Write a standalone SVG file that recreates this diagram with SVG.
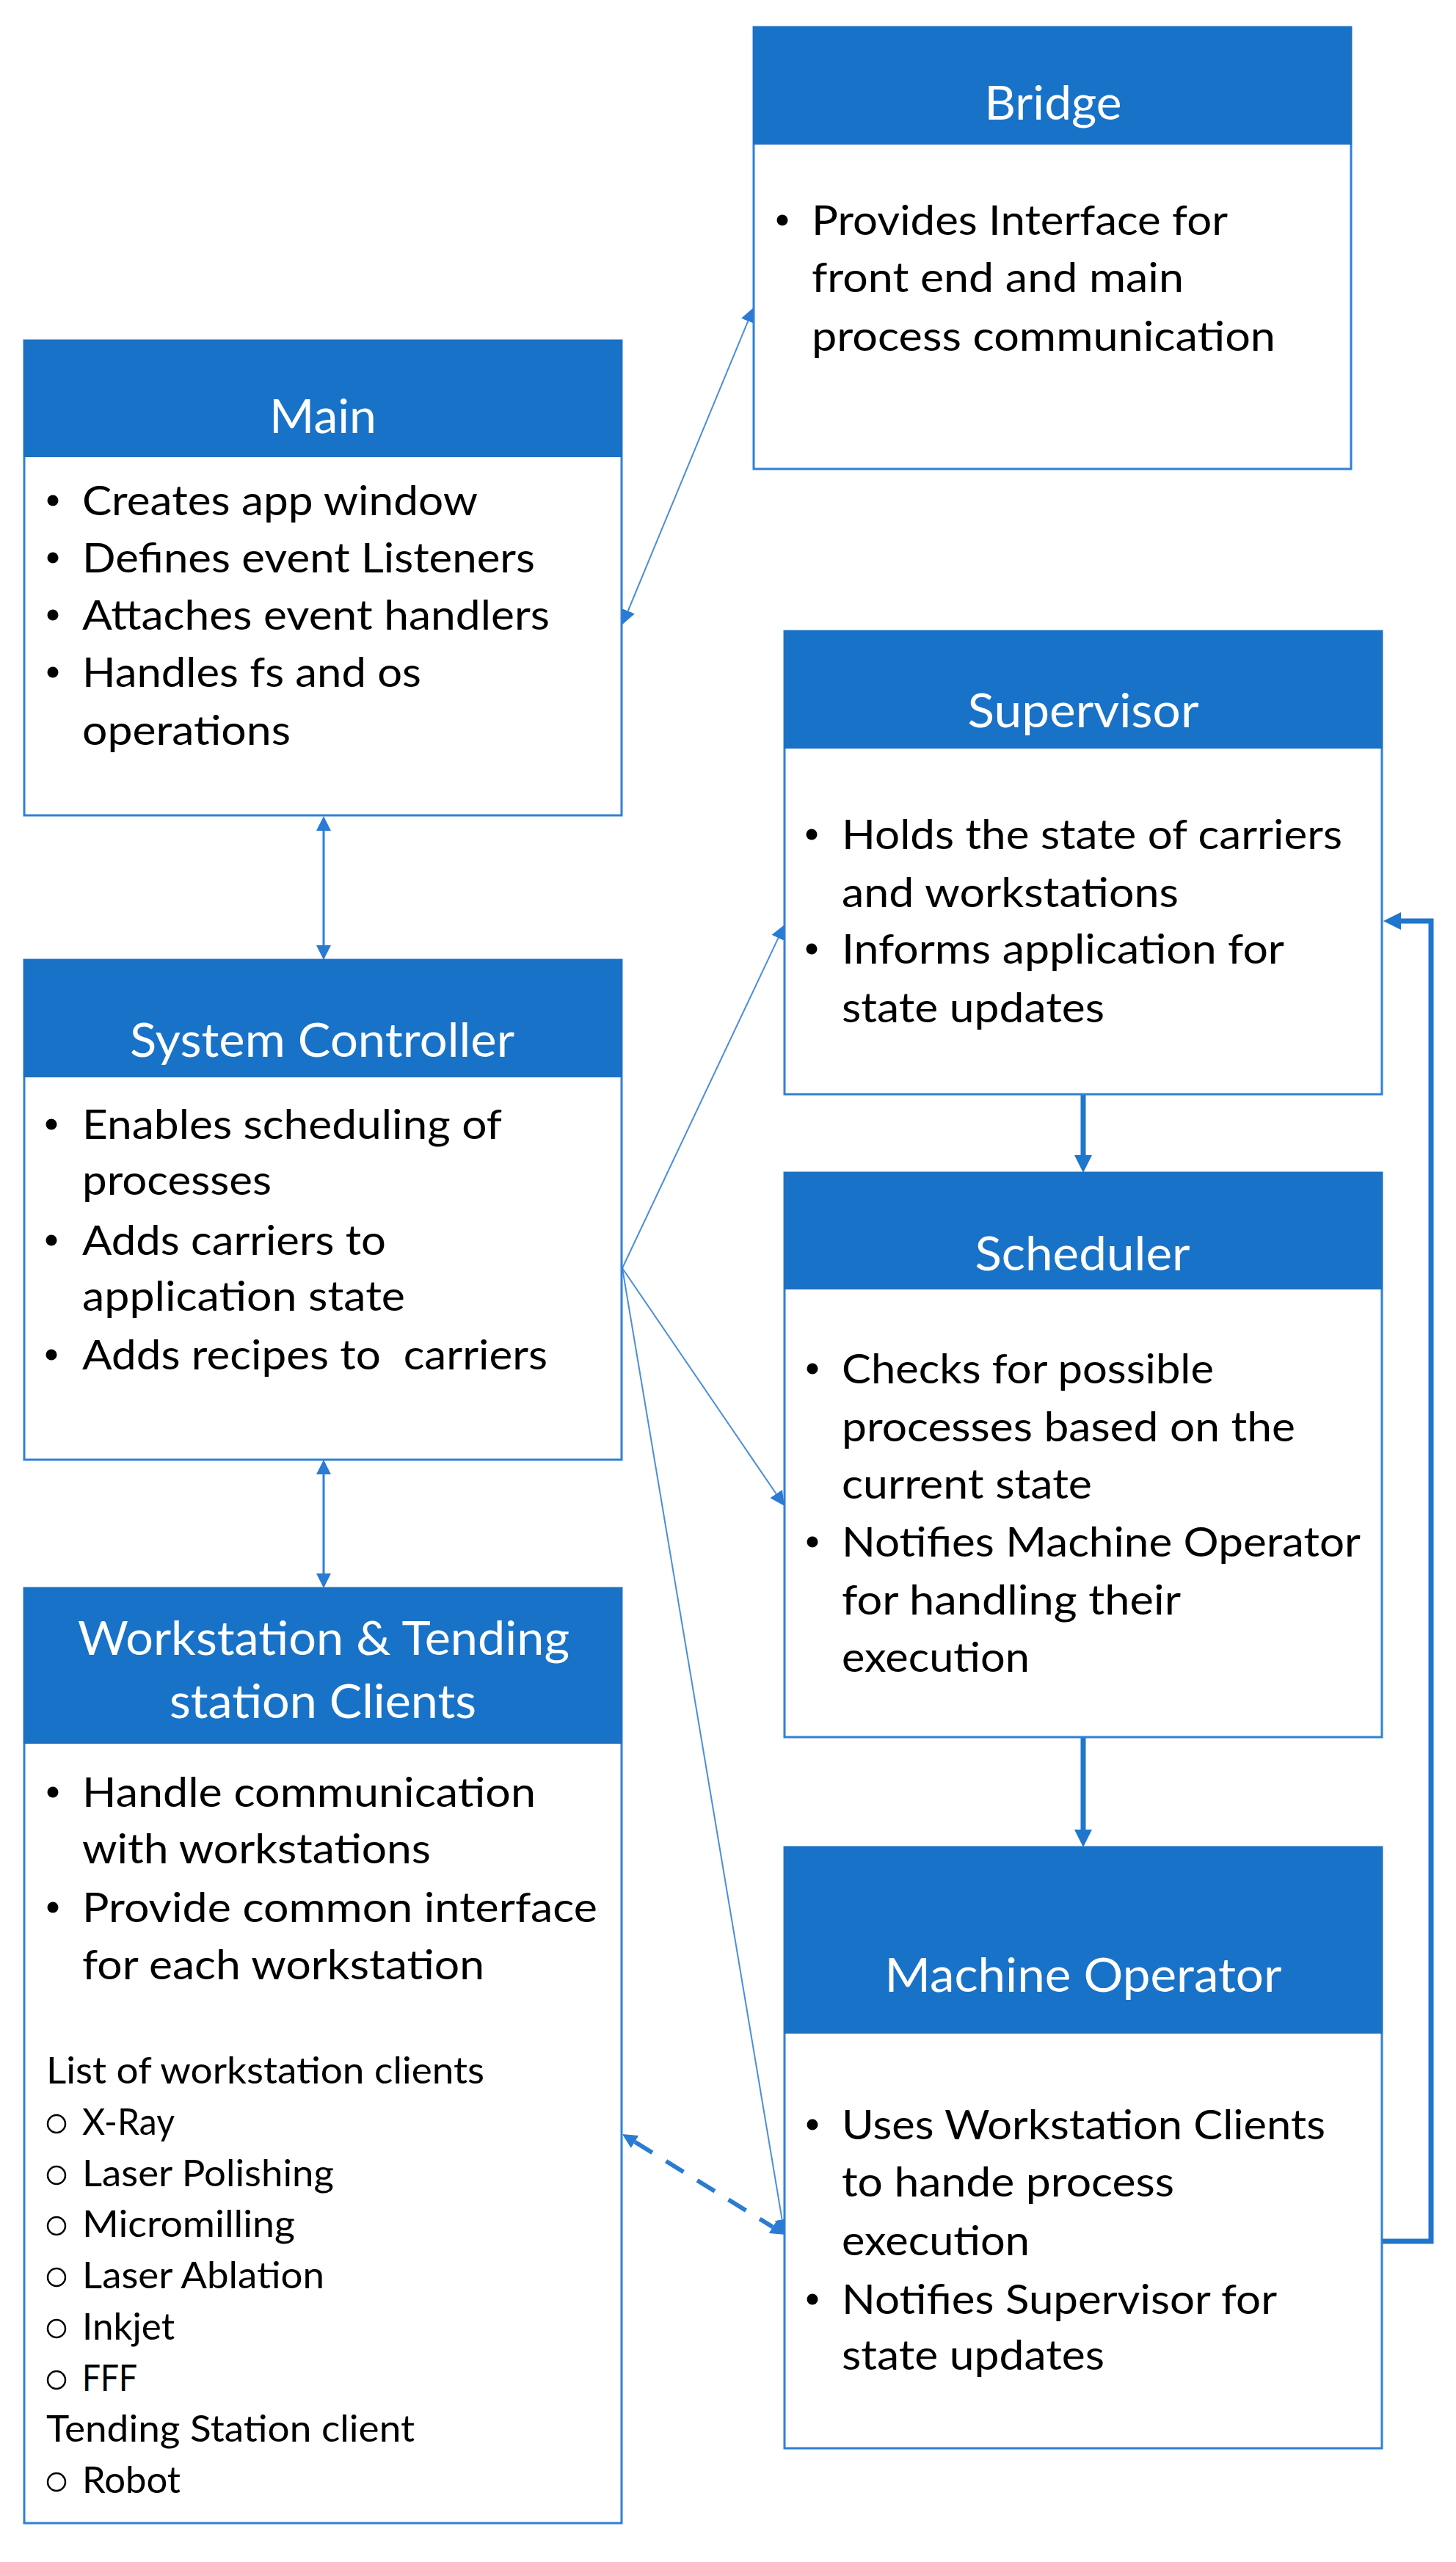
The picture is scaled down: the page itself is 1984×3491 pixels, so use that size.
<svg xmlns="http://www.w3.org/2000/svg" width="1984" height="3491" viewBox="0 0 1984 3491">
<style>
.bg{fill:#ffffff}
.box{fill:#ffffff;stroke:#2F80D6;stroke-width:3}
.hdr{fill:#1872C8;stroke:#1F6FBF;stroke-width:2}
.t{font-family:Lato,'Open Sans','Liberation Sans',sans-serif;font-size:63px;fill:#ffffff;text-anchor:middle}
.b{font-family:Lato,'Open Sans','Liberation Sans',sans-serif;font-size:57px;fill:#000000}
.l{font-size:51px}
.dot{fill:#000000}
.ring{fill:none;stroke:#000000;stroke-width:2.5}
.thin{stroke:#4A8EDB;stroke-width:2;fill:none}
.med{stroke:#2F80D6;stroke-width:3;fill:none}
.thick{stroke:#1F76CC;stroke-width:7;fill:none}
.dash{stroke:#2A7BD3;stroke-width:6;stroke-dasharray:28 22;fill:none}
</style>
<defs>
<marker id="ah" viewBox="0 0 20 20" refX="0" refY="10" markerWidth="20" markerHeight="20" markerUnits="userSpaceOnUse" orient="auto-start-reverse">
<path d="M0,0 L20,10 L0,20 z" fill="#2A7BD3"/>
</marker>
<marker id="ahb" viewBox="0 0 24 24" refX="0" refY="12" markerWidth="24" markerHeight="24" markerUnits="userSpaceOnUse" orient="auto-start-reverse">
<path d="M0,0 L24,12 L0,24 z" fill="#1F76CC"/>
</marker>
</defs>
<rect class="bg" x="0" y="0" width="1984" height="3491"/>

<g id="connectors">
<line class="thin" x1="855.7" y1="832.5" x2="1019.3" y2="437.5" marker-start="url(#ah)" marker-end="url(#ah)"/>
<line class="med" x1="441" y1="1132" x2="441" y2="1288" marker-start="url(#ah)" marker-end="url(#ah)"/>
<line class="med" x1="441" y1="2009" x2="441" y2="2144" marker-start="url(#ah)" marker-end="url(#ah)"/>
<line class="thin" x1="848" y1="1728" x2="1060.5" y2="1278.1" marker-end="url(#ah)"/>
<line class="thin" x1="848" y1="1728" x2="1057.7" y2="2035.5" marker-end="url(#ah)"/>
<line class="thin" x1="848" y1="1728" x2="1065.7" y2="3024.3" marker-end="url(#ah)"/>
<line class="thick" x1="1476" y1="1491" x2="1476" y2="1574" marker-end="url(#ahb)"/>
<line class="thick" x1="1476" y1="2367" x2="1476" y2="2493" marker-end="url(#ahb)"/>
<polyline class="thick" points="1883,3054 1950,3054 1950,1255 1909,1255" marker-end="url(#ahb)"/>
<line class="dash" x1="865" y1="2918.5" x2="1053" y2="3034.5" marker-start="url(#ah)" marker-end="url(#ah)"/>
</g>

<g id="main">
<rect class="box" x="33" y="464" width="814" height="647"/>
<rect class="hdr" x="33" y="464" width="814" height="158"/>
<text class="t" x="440" y="590" textLength="146" lengthAdjust="spacingAndGlyphs">Main</text>
<circle class="dot" cx="72" cy="682" r="7.5"/>
<circle class="dot" cx="72" cy="760" r="7.5"/>
<circle class="dot" cx="72" cy="838" r="7.5"/>
<circle class="dot" cx="72" cy="916" r="7.5"/>
<text class="b" x="112" y="702" textLength="539" lengthAdjust="spacingAndGlyphs">Creates app window</text>
<text class="b" x="112" y="780" textLength="617" lengthAdjust="spacingAndGlyphs">Defines event Listeners</text>
<text class="b" x="112" y="858" textLength="637" lengthAdjust="spacingAndGlyphs">Attaches event handlers</text>
<text class="b" x="112" y="936" textLength="462" lengthAdjust="spacingAndGlyphs">Handles fs and os</text>
<text class="b" x="112" y="1015" textLength="284" lengthAdjust="spacingAndGlyphs">operations</text>
</g>

<g id="bridge">
<rect class="box" x="1027" y="37" width="814" height="602"/>
<rect class="hdr" x="1027" y="37" width="814" height="159"/>
<text class="t" x="1435" y="163" textLength="187" lengthAdjust="spacingAndGlyphs">Bridge</text>
<circle class="dot" cx="1066" cy="300" r="7.5"/>
<text class="b" x="1106" y="320" textLength="567" lengthAdjust="spacingAndGlyphs">Provides Interface for</text>
<text class="b" x="1106" y="398" textLength="507" lengthAdjust="spacingAndGlyphs">front end and main</text>
<text class="b" x="1106" y="478" textLength="632" lengthAdjust="spacingAndGlyphs">process communication</text>
</g>

<g id="supervisor">
<rect class="box" x="1069" y="860" width="814" height="631"/>
<rect class="hdr" x="1069" y="860" width="814" height="159"/>
<text class="t" x="1476" y="991" textLength="315" lengthAdjust="spacingAndGlyphs">Supervisor</text>
<circle class="dot" cx="1106" cy="1137" r="7.5"/>
<circle class="dot" cx="1106" cy="1293" r="7.5"/>
<text class="b" x="1147" y="1157" textLength="682" lengthAdjust="spacingAndGlyphs">Holds the state of carriers</text>
<text class="b" x="1147" y="1236" textLength="459" lengthAdjust="spacingAndGlyphs">and workstations</text>
<text class="b" x="1147" y="1313" textLength="603" lengthAdjust="spacingAndGlyphs">Informs application for</text>
<text class="b" x="1147" y="1393" textLength="358" lengthAdjust="spacingAndGlyphs">state updates</text>
</g>

<g id="system-controller">
<rect class="box" x="33" y="1308" width="814" height="681"/>
<rect class="hdr" x="33" y="1308" width="814" height="159"/>
<text class="t" x="439" y="1440" textLength="524" lengthAdjust="spacingAndGlyphs">System Controller</text>
<circle class="dot" cx="70" cy="1532" r="7.5"/>
<circle class="dot" cx="70" cy="1690" r="7.5"/>
<circle class="dot" cx="70" cy="1846" r="7.5"/>
<text class="b" x="112" y="1552" textLength="572" lengthAdjust="spacingAndGlyphs">Enables scheduling of</text>
<text class="b" x="112" y="1628" textLength="258" lengthAdjust="spacingAndGlyphs">processes</text>
<text class="b" x="112" y="1710" textLength="414" lengthAdjust="spacingAndGlyphs">Adds carriers to</text>
<text class="b" x="112" y="1786" textLength="440" lengthAdjust="spacingAndGlyphs">application state</text>
<text class="b" x="112" y="1866" textLength="634" lengthAdjust="spacingAndGlyphs" xml:space="preserve">Adds recipes to  carriers</text>
</g>

<g id="scheduler">
<rect class="box" x="1069" y="1598" width="814" height="769"/>
<rect class="hdr" x="1069" y="1598" width="814" height="158"/>
<text class="t" x="1475" y="1731" textLength="293" lengthAdjust="spacingAndGlyphs">Scheduler</text>
<circle class="dot" cx="1107" cy="1865" r="7.5"/>
<circle class="dot" cx="1107" cy="2101" r="7.5"/>
<text class="b" x="1147" y="1885" textLength="507" lengthAdjust="spacingAndGlyphs">Checks for possible</text>
<text class="b" x="1147" y="1964" textLength="618" lengthAdjust="spacingAndGlyphs">processes based on the</text>
<text class="b" x="1147" y="2042" textLength="341" lengthAdjust="spacingAndGlyphs">current state</text>
<text class="b" x="1147" y="2121" textLength="707" lengthAdjust="spacingAndGlyphs">Notifies Machine Operator</text>
<text class="b" x="1147" y="2200" textLength="462" lengthAdjust="spacingAndGlyphs">for handling their</text>
<text class="b" x="1147" y="2278" textLength="256" lengthAdjust="spacingAndGlyphs">execution</text>
</g>

<g id="workstation-clients">
<rect class="box" x="33" y="2164" width="814" height="1274"/>
<rect class="hdr" x="33" y="2164" width="814" height="211"/>
<text class="t" x="441" y="2255" textLength="670" lengthAdjust="spacingAndGlyphs">Workstation &amp; Tending</text>
<text class="t" x="440" y="2341" textLength="418" lengthAdjust="spacingAndGlyphs">station Clients</text>
<circle class="dot" cx="72" cy="2442" r="7.5"/>
<circle class="dot" cx="72" cy="2599" r="7.5"/>
<text class="b" x="112" y="2462" textLength="618" lengthAdjust="spacingAndGlyphs">Handle communication</text>
<text class="b" x="112" y="2539" textLength="475" lengthAdjust="spacingAndGlyphs">with workstations</text>
<text class="b" x="112" y="2619" textLength="702" lengthAdjust="spacingAndGlyphs">Provide common interface</text>
<text class="b" x="112" y="2697" textLength="548" lengthAdjust="spacingAndGlyphs">for each workstation</text>
<text class="b l" x="63" y="2839" textLength="597" lengthAdjust="spacingAndGlyphs">List of workstation clients</text>
<circle class="ring" cx="77" cy="2894" r="12"/>
<circle class="ring" cx="77" cy="2964" r="12"/>
<circle class="ring" cx="77" cy="3033" r="12"/>
<circle class="ring" cx="77" cy="3103" r="12"/>
<circle class="ring" cx="77" cy="3173" r="12"/>
<circle class="ring" cx="77" cy="3243" r="12"/>
<circle class="ring" cx="77" cy="3382" r="12"/>
<text class="b l" x="112" y="2909" textLength="126" lengthAdjust="spacingAndGlyphs">X-Ray</text>
<text class="b l" x="112" y="2979" textLength="343" lengthAdjust="spacingAndGlyphs">Laser Polishing</text>
<text class="b l" x="112" y="3048" textLength="290" lengthAdjust="spacingAndGlyphs">Micromilling</text>
<text class="b l" x="112" y="3118" textLength="330" lengthAdjust="spacingAndGlyphs">Laser Ablation</text>
<text class="b l" x="112" y="3188" textLength="126" lengthAdjust="spacingAndGlyphs">Inkjet</text>
<text class="b l" x="112" y="3258" textLength="75" lengthAdjust="spacingAndGlyphs">FFF</text>
<text class="b l" x="63" y="3327" textLength="502" lengthAdjust="spacingAndGlyphs">Tending Station client</text>
<text class="b l" x="112" y="3397" textLength="134" lengthAdjust="spacingAndGlyphs">Robot</text>
</g>

<g id="machine-operator">
<rect class="box" x="1069" y="2517" width="814" height="819"/>
<rect class="hdr" x="1069" y="2517" width="814" height="253"/>
<text class="t" x="1476" y="2714" textLength="541" lengthAdjust="spacingAndGlyphs">Machine Operator</text>
<circle class="dot" cx="1107" cy="2895" r="7.5"/>
<circle class="dot" cx="1107" cy="3133" r="7.5"/>
<text class="b" x="1147" y="2915" textLength="659" lengthAdjust="spacingAndGlyphs">Uses Workstation Clients</text>
<text class="b" x="1147" y="2993" textLength="453" lengthAdjust="spacingAndGlyphs">to hande process</text>
<text class="b" x="1147" y="3073" textLength="256" lengthAdjust="spacingAndGlyphs">execution</text>
<text class="b" x="1147" y="3153" textLength="593" lengthAdjust="spacingAndGlyphs">Notifies Supervisor for</text>
<text class="b" x="1147" y="3229" textLength="358" lengthAdjust="spacingAndGlyphs">state updates</text>
</g>
</svg>
